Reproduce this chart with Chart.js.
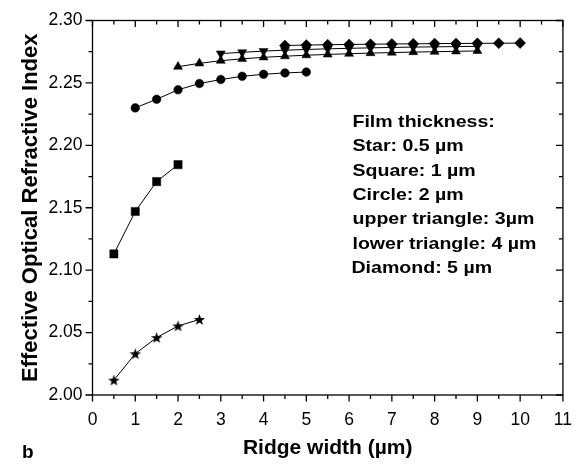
<!DOCTYPE html>
<html>
<head>
<meta charset="utf-8">
<script src="https://cdn.jsdelivr.net/npm/chart.js@4.4.1/dist/chart.umd.min.js"></script>
<style>
  html, body { margin: 0; padding: 0; background: #fff; }
  #wrap { width: 587px; height: 465px; }
</style>
</head>
<body>
<div id="wrap"><canvas id="c" width="587" height="465"></canvas></div>
<script>
// ---- data (ridge width in µm, effective index) ----
const xStar = [0.5, 1.0, 1.5, 2.0, 2.5];
const yStar = [2.0119, 2.0330, 2.0460, 2.0553, 2.0605];

const xSquare = [0.5, 1.0, 1.5, 2.0];
const ySquare = [2.1130, 2.1470, 2.1710, 2.1845];

const xCircle = [1.0, 1.5, 2.0, 2.5, 3.0, 3.5, 4.0, 4.5, 5.0];
const yCircle = [2.2300, 2.2369, 2.2445, 2.2495, 2.2527, 2.2553, 2.2569, 2.2580, 2.2587];

const xUpTri = [2.0, 2.5, 3.0, 3.5, 4.0, 4.5, 5.0, 5.5, 6.0, 6.5, 7.0, 7.5, 8.0, 8.5, 9.0];
const yUpTri = [2.2630, 2.2657, 2.2678, 2.2693, 2.2705, 2.2714, 2.2722, 2.2728, 2.2734, 2.2739, 2.2743, 2.2747, 2.2750, 2.2753, 2.2756];

const xDownTri = [3.0, 3.5, 4.0, 4.5, 5.0, 5.5, 6.0, 6.5, 7.0, 7.5, 8.0, 8.5, 9.0];
const yDownTri = [2.2735, 2.2745, 2.2755, 2.2762, 2.2768, 2.2773, 2.2777, 2.2781, 2.2784, 2.2787, 2.2789, 2.2791, 2.2793];

const xDiamond = [4.5, 5.0, 5.5, 6.0, 6.5, 7.0, 7.5, 8.0, 8.5, 9.0, 9.5, 10.0];
const yDiamond = [2.2800, 2.2803, 2.2806, 2.2808, 2.2810, 2.2812, 2.2813, 2.2815, 2.2816, 2.2817, 2.2818, 2.2819];

const xTicks = [0, 1, 2, 3, 4, 5, 6, 7, 8, 9, 10, 11];
const yTicks = [2.00, 2.05, 2.10, 2.15, 2.20, 2.25, 2.30];

const noteLines = [
  'Film thickness:',
  'Star: 0.5 \u00b5m',
  'Square: 1 \u00b5m',
  'Circle: 2 \u00b5m',
  'upper triangle: 3\u00b5m',
  'lower triangle: 4 \u00b5m',
  'Diamond: 5 \u00b5m'
];
const panelLabel = 'b';

const FONT = '"Liberation Sans", Arial, Helvetica, sans-serif';
const pts = (xs, ys) => xs.map((x, i) => ({ x, y: ys[i] }));

// filled five-point star (Chart.js 'star' is an asterisk)
function starImage() {
  const c = document.createElement('canvas');
  c.width = 13; c.height = 13;
  const g = c.getContext('2d');
  g.beginPath();
  for (let i = 0; i < 10; i++) {
    const r = i % 2 ? 2.4 : 6;
    const a = -Math.PI / 2 + i * Math.PI / 5;
    const px = 6.5 + r * Math.cos(a), py = 7 + r * Math.sin(a);
    i ? g.lineTo(px, py) : g.moveTo(px, py);
  }
  g.closePath();
  g.fillStyle = '#000';
  g.fill();
  return c;
}

function series(label, data, style, radius, rotation) {
  return {
    label, data, showLine: true,
    borderColor: '#000', borderWidth: 1,
    pointStyle: style, pointRadius: radius, pointRotation: rotation || 0,
    pointBackgroundColor: '#000', pointBorderColor: '#000', pointBorderWidth: 0.5
  };
}

/* -------------------- frame, ticks, notes -------------------- */
const frame = {
  id: 'frame',
  afterDraw(chart) {
    const { ctx, chartArea: a, scales: { x, y } } = chart;
    ctx.save();
    ctx.strokeStyle = '#000';
    ctx.lineWidth = 1.3;
    ctx.strokeRect(a.left, a.top, a.right - a.left, a.bottom - a.top);
    ctx.beginPath();
    for (let v = xTicks[0]; v <= xTicks[xTicks.length - 1] + 1e-9; v += 0.5) {
      const px = x.getPixelForValue(v);
      const len = Math.abs(v - Math.round(v)) < 1e-9 ? 6.5 : 4;
      ctx.moveTo(px, a.bottom); ctx.lineTo(px, a.bottom + len);   // outward
      ctx.moveTo(px, a.top); ctx.lineTo(px, a.top + len);         // inward
    }
    for (let k = 0; k <= 12; k++) {
      const py = y.getPixelForValue(yTicks[0] + k * 0.025);
      const len = k % 2 === 0 ? 7 : 4;
      ctx.moveTo(a.left, py); ctx.lineTo(a.left - len, py);       // outward
      ctx.moveTo(a.right, py); ctx.lineTo(a.right - len, py);     // inward
    }
    ctx.stroke();

    ctx.fillStyle = '#000';
    ctx.textBaseline = 'alphabetic';
    ctx.font = 'bold 17px ' + FONT;
    noteLines.forEach((t, i) => {
      ctx.save();
      ctx.translate(i === noteLines.length - 1 ? 351.5 : 352.5, 126.7 + i * 24.4);
      ctx.scale(1.15, 1);
      ctx.fillText(t, 0, 0);
      ctx.restore();
    });
    ctx.font = 'bold 19px ' + FONT;
    ctx.fillText(panelLabel, 22, 458);
    ctx.restore();
  }
};

new Chart(document.getElementById('c'), {
  type: 'scatter',
  data: {
    datasets: [
      series('Star: 0.5 µm', pts(xStar, yStar), starImage(), 5),
      series('Square: 1 µm', pts(xSquare, ySquare), 'rect', 5.8),
      series('Circle: 2 µm', pts(xCircle, yCircle), 'circle', 4.3),
      series('upper triangle: 3µm', pts(xUpTri, yUpTri), 'triangle', 5.2),
      series('lower triangle: 4 µm', pts(xDownTri, yDownTri), 'triangle', 5.2, 180),
      series('Diamond: 5 µm', pts(xDiamond, yDiamond), 'rectRot', 5.5)
    ]
  },
  options: {
    responsive: false, animation: false, devicePixelRatio: 1,
    layout: { padding: { top: 17, right: 24, left: 0, bottom: 0 } },
    plugins: { legend: { display: false }, tooltip: { enabled: false } },
    scales: {
      x: {
        type: 'linear', min: xTicks[0], max: xTicks[xTicks.length - 1],
        afterBuildTicks: s => { s.ticks = xTicks.map(v => ({ value: v })); },
        afterFit: s => { s.height = 70; },
        grid: { display: false, drawTicks: false }, border: { display: false },
        ticks: { color: '#000', padding: 15, font: { family: FONT, size: 17.5 }, callback: v => String(v) },
        title: { display: true, text: 'Ridge width (\u00b5m)', color: '#000',
                 font: { family: FONT, size: 21, weight: 'bold' }, padding: { top: 0, bottom: 4 } }
      },
      y: {
        type: 'linear', min: yTicks[0], max: yTicks[yTicks.length - 1],
        afterBuildTicks: s => { s.ticks = yTicks.map(v => ({ value: v })); },
        afterFit: s => { s.width = 92.5; },
        grid: { display: false, drawTicks: false }, border: { display: false },
        ticks: { color: '#000', padding: 10, font: { family: FONT, size: 17.5 }, callback: v => v.toFixed(2) },
        title: { display: true, text: 'Effective Optical Refractive Index', color: '#000',
                 font: { family: FONT, size: 22, weight: 'bold' }, padding: { top: 18, bottom: 0 } }
      }
    }
  },
  plugins: [frame]
});
</script>
</body>
</html>
